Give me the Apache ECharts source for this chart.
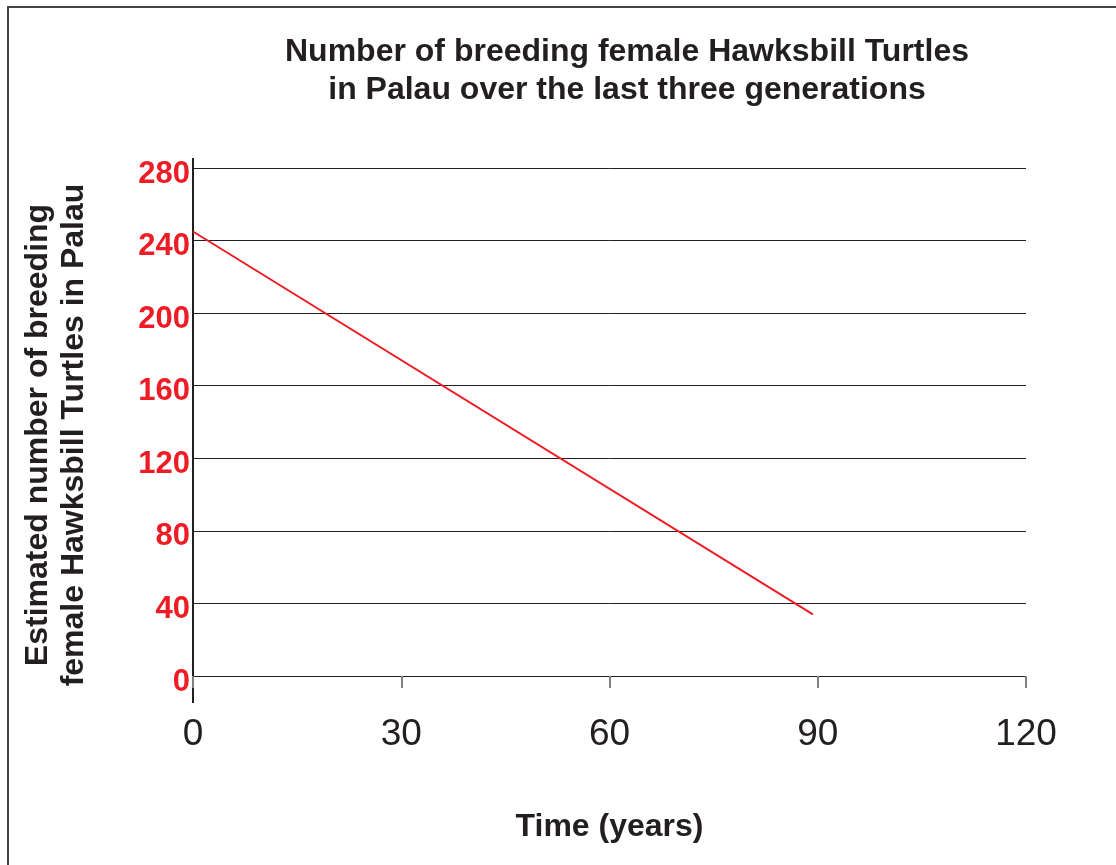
<!DOCTYPE html>
<html>
<head>
<meta charset="utf-8">
<script src="https://cdn.jsdelivr.net/npm/echarts@6/dist/echarts.min.js"></script>
<style>
html, body { margin: 0; padding: 0; background: #fff; }
#main { width: 1116px; height: 865px; }
</style>
</head>
<body>
<div id="main"></div>
<script>
// 数据
var years = [ 0, 89.3 ];
var females = [ 245, 34 ];
var xTicks = [ 0, 30, 60, 90, 120 ];
var yTicks = [ 0, 40, 80, 120, 160, 200, 240, 280 ];

var font = '"Liberation Sans", Arial, sans-serif';
var red = '#ee1c25';
var ink = '#231f20';

var myChart = echarts.init(document.getElementById('main'));
var option = {
	animation : false,
	title : {
		text : 'Number of breeding female Hawksbill Turtles\nin Palau over the last three generations',
		left : 622,
		textAlign : 'center',
		top : 28,
		textStyle : {
			fontFamily : font,
			fontWeight : 'bold',
			fontSize : 32,
			lineHeight : 38,
			color : ink
		}
	},
	grid : {
		left : 193,
		right : 90,
		top : 168,
		bottom : 189,
		outerBoundsMode : 'none'
	},
	xAxis : {
		type : 'value',
		min : xTicks[0],
		max : xTicks[xTicks.length - 1],
		interval : 30,
		name : 'Time (years)',
		nameLocation : 'middle',
		nameGap : 135,
		nameTextStyle : {
			fontFamily : font,
			fontWeight : 'bold',
			fontSize : 32,
			color : ink
		},
		axisLine : {
			show : true,
			lineStyle : { color : ink, width : 1 }
		},
		axisTick : {
			show : true,
			inside : false,
			length : 12,
			lineStyle : { color : '#808080', width : 2 }
		},
		axisLabel : {
			margin : 40,
			fontFamily : font,
			fontSize : 37,
			color : ink
		},
		splitLine : { show : false }
	},
	yAxis : {
		type : 'value',
		min : yTicks[0],
		max : yTicks[yTicks.length - 1],
		interval : 40,
		name : 'Estimated number of breeding\nfemale Hawksbill Turtles in Palau',
		nameLocation : 'middle',
		nameGap : 101,
		nameRotate : 90,
		nameTextStyle : {
			fontFamily : font,
			fontWeight : 'bold',
			fontSize : 32,
			lineHeight : 36,
			color : ink,
			padding : [ 0, 26, 0, 0 ]
		},
		axisLine : { show : false },
		axisTick : { show : false },
		axisLabel : {
			margin : 3,
			fontFamily : font,
			fontWeight : 'bold',
			fontSize : 31,
			color : red,
			verticalAlign : 'top',
			lineHeight : 12
		},
		splitLine : {
			show : true,
			lineStyle : { color : ink, width : 1 }
		}
	},
	series : [ {
		type : 'line',
		data : years.map(function(x, i) {
			return [ x, females[i] ];
		}),
		showSymbol : false,
		lineStyle : { color : red, width : 2 }
	} ]
};
myChart.setOption(option);

// 外框和加长的纵轴线
var top0 = myChart.convertToPixel({ gridIndex : 0 }, [ 0, 280 ]);
var bot0 = myChart.convertToPixel({ gridIndex : 0 }, [ 0, 0 ]);
myChart.setOption({
	graphic : [ {
		type : 'rect',
		shape : { x : 8, y : 7, width : 1130, height : 880 },
		style : { fill : 'none', stroke : '#444', lineWidth : 2 }
	}, {
		type : 'line',
		shape : { x1 : top0[0], y1 : top0[1] - 10, x2 : bot0[0], y2 : bot0[1] + 27 },
		style : { stroke : ink, lineWidth : 2 }
	} ]
});
</script>
</body>
</html>
